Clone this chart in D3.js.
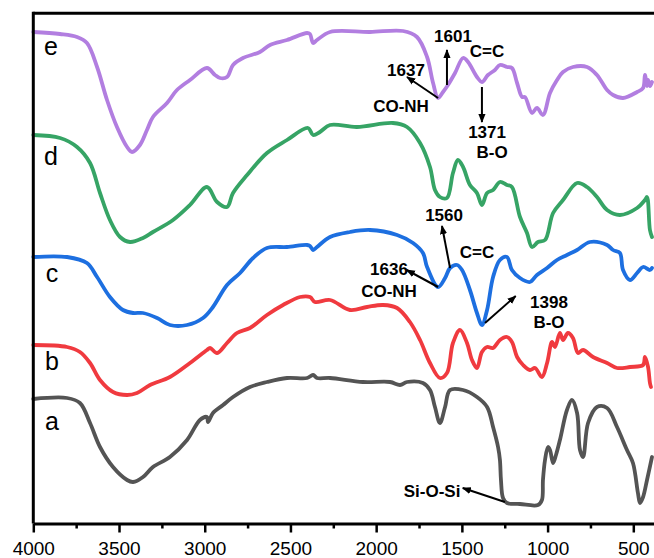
<!DOCTYPE html>
<html>
<head>
<meta charset="utf-8">
<script src="https://cdn.jsdelivr.net/npm/d3@7"></script>
<style>
  html, body { margin: 0; padding: 0; background: #fff; }
  svg { display: block; }
  text { font-family: "Liberation Sans", Arial, sans-serif; }
</style>
</head>
<body>
<svg id="chart" width="654" height="558"></svg>
<script>
// FTIR spectra (wavenumber in cm-1, transmittance in arbitrary units, stacked)
const seriesNames = ["a", "b", "c", "d", "e"];
const seriesColors = ["#545454", "#f03a3f", "#1d6fe0", "#36a465", "#b27ee0"];

const specA = [
  [4000,125],[3803,126],[3728,121],[3669,101],[3611,77],[3535,57],[3453,44],[3418,42],[3360,47],
  [3302,57],[3203,67],[3103,84],[3028,104],[2987,107],[2981,102],[2952,111],[2893,119],[2835,127],
  [2736,137],[2637,142],[2520,146],[2403,146],[2368,149],[2345,146],[2269,146],[2077,142],[1919,142],
  [1861,139],[1820,142],[1727,141],[1686,134],[1657,117],[1628,101],[1598,117],[1569,134],[1493,134],
  [1412,127],[1353,117],[1318,97],[1289,77],[1278,64],[1272,44],[1260,26],[1237,21],[1161,20],
  [1056,19],[1033,24],[1027,44],[1015,64],[998,77],[986,74],[968,61],[951,69],[928,84],[887,114],
  [858,124],[828,111],[811,74],[793,67],[764,101],[712,117],[653,116],[595,97],[537,74],[502,61],
  [473,31],[461,21],[443,27],[420,44],[391,67]
];
const specB = [
  [4000,179],[3803,177],[3728,172],[3669,161],[3611,144],[3535,132],[3453,129],[3395,131],[3319,139],
  [3203,147],[3086,161],[2987,174],[2969,176],[2928,171],[2870,181],[2812,191],[2736,196],[2637,209],
  [2543,219],[2444,227],[2386,227],[2357,222],[2269,224],[2153,214],[2053,217],[1960,219],[1878,216],
  [1803,202],[1744,184],[1686,161],[1628,146],[1587,151],[1552,181],[1511,194],[1470,181],[1441,164],
  [1412,156],[1383,172],[1353,177],[1318,176],[1278,184],[1237,187],[1208,182],[1178,167],[1143,159],
  [1103,154],[1073,156],[1033,147],[1003,161],[974,182],[957,177],[928,191],[910,184],[881,191],
  [852,186],[823,171],[793,174],[735,167],[653,161],[595,156],[519,157],[443,159],[432,167],[414,157],
  [403,141],[397,137]
];
const specC = [
  [4000,267],[3803,267],[3687,261],[3628,247],[3553,227],[3477,214],[3418,211],[3360,211],[3278,206],
  [3203,199],[3103,199],[3010,206],[2952,217],[2870,239],[2794,251],[2718,266],[2637,276],[2520,277],
  [2403,279],[2386,278],[2368,274],[2345,277],[2269,287],[2153,292],[2036,294],[1878,289],[1785,281],
  [1727,271],[1703,257],[1639,237],[1598,246],[1569,256],[1528,259],[1499,254],[1453,234],[1412,211],
  [1383,199],[1353,214],[1318,247],[1278,264],[1237,267],[1208,254],[1161,246],[1103,242],[1062,249],
  [1003,256],[945,264],[887,269],[828,274],[753,282],[653,279],[618,274],[578,271],[560,254],[519,244],
  [478,251],[443,257],[403,254],[391,256]
];
const specD = [
  [4000,389],[3844,386],[3745,377],[3669,361],[3611,331],[3553,304],[3494,287],[3436,282],[3360,286],
  [3302,292],[3185,304],[3086,319],[2987,337],[2928,322],[2870,317],[2835,331],[2753,349],[2637,371],
  [2520,384],[2398,396],[2368,389],[2328,392],[2269,399],[2112,397],[1902,401],[1820,397],[1744,381],
  [1686,357],[1657,334],[1628,327],[1587,326],[1552,351],[1523,364],[1493,357],[1453,339],[1412,331],
  [1383,319],[1353,331],[1318,334],[1278,342],[1237,339],[1208,337],[1161,307],[1120,291],[1091,277],
  [1056,282],[1015,284],[968,311],[910,324],[828,341],[770,337],[712,327],[653,314],[578,309],
  [478,316],[432,324],[420,327],[403,294],[391,287]
];
const specE = [
  [4000,492],[3844,490],[3745,487],[3687,481],[3628,457],[3570,424],[3512,397],[3453,377],[3424,372],
  [3378,379],[3337,394],[3302,407],[3220,421],[3162,434],[3086,444],[2987,456],[2940,449],[2911,446],
  [2870,447],[2835,459],[2777,466],[2678,472],[2619,479],[2520,484],[2403,491],[2386,490],[2368,481],
  [2345,484],[2269,492],[2036,492],[1843,493],[1762,487],[1703,467],[1668,441],[1639,426],[1610,432],
  [1581,439],[1540,451],[1493,466],[1464,462],[1412,447],[1383,442],[1348,449],[1307,454],[1278,459],
  [1237,457],[1208,456],[1178,441],[1149,427],[1132,427],[1091,411],[1062,416],[1027,409],[986,431],
  [945,444],[910,452],[852,457],[770,457],[712,449],[653,434],[618,429],[560,426],[478,432],[443,436],
  [432,449],[420,438],[414,444],[403,438],[391,442]
];
const spectra = [specA, specB, specC, specD, specE];

// position of each trace's letter (wavenumber, level)
const letterPos = [[3891,94],[3891,154],[3891,242],[3897,359],[3897,469]];

// axis ticks
const majorTicks = [4000, 3500, 3000, 2500, 2000, 1500, 1000, 500];
const minorTicks = [3750, 3250, 2750, 2250, 1750, 1250, 750];

// band annotations: text labels (wavenumber, level) and arrows (from -> to)
const bandLabels = [
  ["1601", 1552, 482], ["C=C", 1353, 467], ["1637", 1826, 448], ["CO-NH", 1855, 412],
  ["1371", 1353, 386], ["B-O", 1324, 366],
  ["1560", 1604, 303], ["C=C", 1412, 266], ["1636", 1925, 249], ["CO-NH", 1925, 227],
  ["1398", 992, 216], ["B-O", 992, 196],
  ["Si-O-Si", 1674, 27]
];
const bandArrows = [
  [1587, 439, 1587, 474],
  [1639, 426, 1820, 447],
  [1383, 437, 1383, 402],
  [1569, 256, 1616, 298],
  [1639, 237, 1822, 254],
  [1365, 201, 1186, 228],
  [1249, 22, 1495, 36]
];

const svg = d3.select("#chart");
const plotLeft = 33.3, plotTop = 13.3, plotBottom = 523.5;
const x = d3.scaleLinear().domain([4000, 370]).range([plotLeft, plotLeft + 0.17143 * 3630]);
const y = d3.scaleLinear().domain([0, 511]).range([524, 13]);

// arrowhead marker
svg.append("defs").append("marker")
  .attr("id", "ah").attr("viewBox", "0 0 10 10").attr("refX", 9).attr("refY", 5)
  .attr("markerWidth", 9).attr("markerHeight", 9).attr("markerUnits", "userSpaceOnUse")
  .attr("orient", "auto")
  .append("path").attr("d", "M0,1 L10,5 L0,9 Z").attr("fill", "#000");

// spectra
const line = d3.line().x(d => x(d[0])).y(d => y(d[1])).curve(d3.curveCatmullRom.alpha(0.5));
svg.append("g").selectAll("path").data(spectra).join("path")
  .attr("d", line)
  .attr("fill", "none")
  .attr("stroke", (d, i) => seriesColors[i])
  .attr("stroke-width", 3.8)
  .attr("stroke-linejoin", "round")
  .attr("stroke-linecap", "round");

// trace letters
svg.append("g").selectAll("text").data(seriesNames).join("text")
  .attr("x", (d, i) => x(letterPos[i][0]))
  .attr("y", (d, i) => y(letterPos[i][1]))
  .attr("text-anchor", "middle")
  .attr("font-size", 25)
  .attr("fill", "#000")
  .text(d => d);

// annotation arrows
svg.append("g").selectAll("line").data(bandArrows).join("line")
  .attr("x1", d => x(d[0])).attr("y1", d => y(d[1]))
  .attr("x2", d => x(d[2])).attr("y2", d => y(d[3]))
  .attr("stroke", "#000").attr("stroke-width", 2)
  .attr("marker-end", "url(#ah)");

// annotation text
svg.append("g").selectAll("text").data(bandLabels).join("text")
  .attr("x", d => x(d[1])).attr("y", d => y(d[2]))
  .attr("text-anchor", "middle")
  .attr("font-size", 17).attr("font-weight", "bold")
  .attr("fill", "#000")
  .text(d => d[0]);

// frame: top and left edges
svg.append("line").attr("x1", plotLeft).attr("x2", 660).attr("y1", plotTop).attr("y2", plotTop)
  .attr("stroke", "#000").attr("stroke-width", 3);
svg.append("line").attr("x1", plotLeft).attr("x2", plotLeft).attr("y1", plotTop - 1.5).attr("y2", plotBottom)
  .attr("stroke", "#000").attr("stroke-width", 3);

// bottom axis
const ax = svg.append("g").attr("transform", `translate(0,${plotBottom})`);
ax.call(d3.axisBottom(x).tickValues(majorTicks).tickSize(9).tickSizeOuter(0).tickFormat(d3.format("d")));
ax.select(".domain").attr("stroke-width", 3).attr("stroke", "#000");
ax.selectAll(".tick line").attr("stroke-width", 2.5).attr("stroke", "#000");
ax.selectAll(".tick text").attr("font-size", 19).attr("font-family", "Liberation Sans, Arial, sans-serif")
  .attr("fill", "#000").attr("y", 31).attr("dy", 0);
const axMinor = svg.append("g").attr("transform", `translate(0,${plotBottom})`);
axMinor.call(d3.axisBottom(x).tickValues(minorTicks).tickSize(5).tickSizeOuter(0).tickFormat(""));
axMinor.select(".domain").remove();
axMinor.selectAll(".tick line").attr("stroke-width", 2.5).attr("stroke", "#000");
</script>
</body>
</html>
